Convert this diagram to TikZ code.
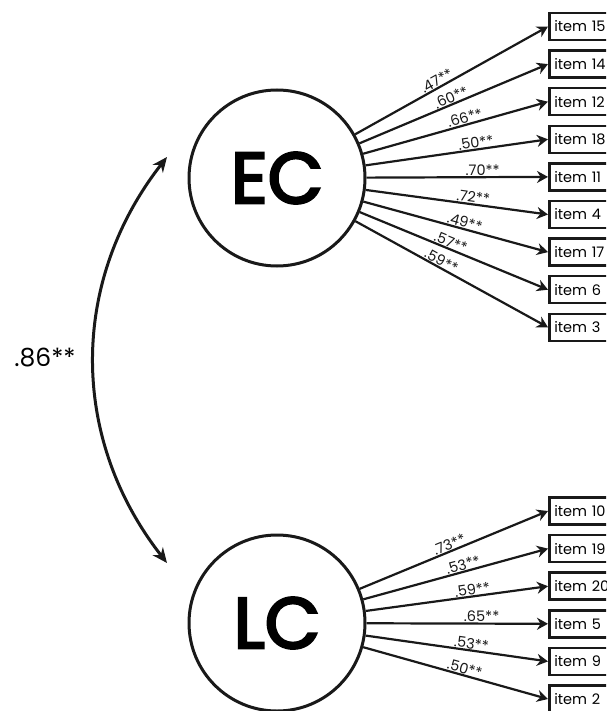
\documentclass[tikz,border=0pt]{standalone}
\usepackage{fontspec}
\setmainfont{Poppins}
\newfontfamily\latentfont{Poppins}[FakeBold=3.5]
\usetikzlibrary{arrows.meta}
\definecolor{LineClr}{rgb}{0.1,0.1,0.1}

\begin{document}
\begin{tikzpicture}[x=1pt,y=-1pt,
  latent/.style={circle,draw=LineClr,line width=3pt,minimum size=176pt,inner sep=0pt,
    font=\latentfont\fontsize{72}{72}\selectfont},
  itembox/.style={draw=LineClr,line width=2.5pt,anchor=west,minimum height=27pt,
    text width=66pt,inner xsep=5pt,align=left,font=\fontsize{14.5}{14.5}\selectfont},
  load/.style={-{Stealth[length=11pt,width=12pt]},line width=2.2pt,color=LineClr},
  corr/.style={{Stealth[length=15pt,width=13pt]}-{Stealth[length=15pt,width=13pt]},line width=3pt,color=LineClr},
  coef/.style={sloped,above,inner sep=0.5pt,font=\fontsize{14.5}{14.5}\selectfont}]
\clip (0,0) rectangle (606,711);

\node[latent] (EC) at (277,178) {EC};
\node[latent] (LC) at (277,623) {LC};

\node[itembox] (i15) at (548,26.5) {item 15};
\node[itembox] (i14) at (548,64.1) {item 14};
\node[itembox] (i12) at (548,101.7) {item 12};
\node[itembox] (i18) at (548,139.3) {item 18};
\node[itembox] (i11) at (548,176.9) {item 11};
\node[itembox] (i4) at (548,214.5) {item 4};
\node[itembox] (i17) at (548,252.1) {item 17};
\node[itembox] (i6) at (548,289.7) {item 6};
\node[itembox] (i3) at (548,327.3) {item 3};

\node[itembox] (i10) at (548,511) {item 10};
\node[itembox] (i19) at (548,548.6) {item 19};
\node[itembox] (i20) at (548,586.2) {item 20};
\node[itembox] (i5) at (548,623.8) {item 5};
\node[itembox] (i9) at (548,661.4) {item 9};
\node[itembox] (i2) at (548,699) {item 2};

\draw[load] (EC) -- (i15.west) node[coef,pos=.44] {.47**};
\draw[load] (EC) -- (i14.west) node[coef,pos=.50] {.60**};
\draw[load] (EC) -- (i12.west) node[coef,pos=.56] {.66**};
\draw[load] (EC) -- (i18.west) node[coef,pos=.61] {.50**};
\draw[load] (EC) -- (i11.west) node[coef,pos=.64] {.70**};
\draw[load] (EC) -- (i4.west) node[coef,pos=.585] {.72**};
\draw[load] (EC) -- (i17.west) node[coef,pos=.54] {.49**};
\draw[load] (EC) -- (i6.west) node[coef,pos=.47] {.57**};
\draw[load] (EC) -- (i3.west) node[coef,pos=.43] {.59**};

\draw[load] (LC) -- (i10.west) node[coef,pos=.49] {.73**};
\draw[load] (LC) -- (i19.west) node[coef,pos=.55] {.53**};
\draw[load] (LC) -- (i20.west) node[coef,pos=.59] {.59**};
\draw[load] (LC) -- (i5.west) node[coef,pos=.634] {.65**};
\draw[load] (LC) -- (i9.west) node[coef,pos=.575] {.53**};
\draw[load] (LC) -- (i2.west) node[coef,pos=.54] {.50**};

\coordinate (ECend) at (167,157);
\coordinate (LCend) at (167,563);
\draw[corr] (ECend) to[bend right=38] (LCend);
\node[font=\fontsize{25}{25}\selectfont] (r) at (45,358) {.86**};

\end{tikzpicture}
\end{document}
